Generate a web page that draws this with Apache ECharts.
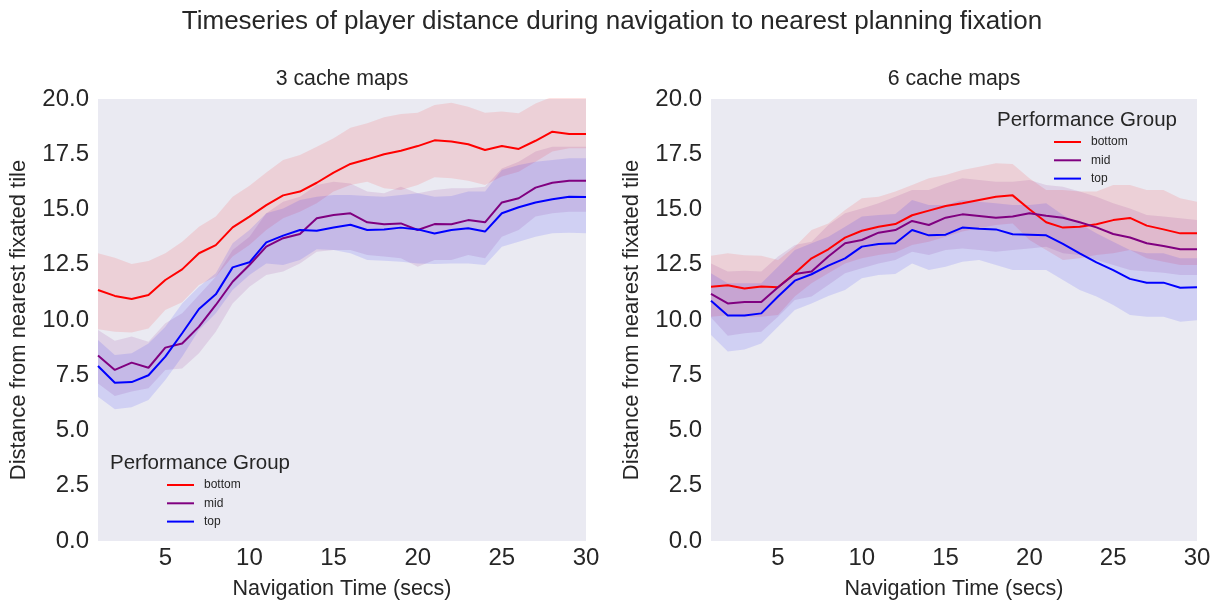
<!DOCTYPE html>
<html>
<head>
<meta charset="utf-8">
<script src="https://cdn.jsdelivr.net/npm/echarts@6/dist/echarts.min.js"></script>
<style>
  html, body { margin: 0; padding: 0; background: #ffffff; }
  #chart { width: 1212px; height: 600px; }
</style>
</head>
<body>
<div id="chart"></div>
<script>
// Navigation time (seconds)
const times = [1, 2, 3, 4, 5, 6, 7, 8, 9, 10, 11, 12, 13, 14, 15, 16, 17, 18, 19, 20, 21, 22, 23, 24, 25, 26, 27, 28, 29, 30];
const xTicks = [5, 10, 15, 20, 25, 30];
const groups = ['bottom', 'mid', 'top'];

// 3 cache maps: mean distance and confidence band per performance group
const c3BottomMean = [11.36, 11.09, 10.95, 11.13, 11.81, 12.29, 13.02, 13.39, 14.19, 14.68, 15.20, 15.64, 15.81, 16.21, 16.67, 17.06, 17.27, 17.50, 17.66, 17.87, 18.13, 18.08, 17.95, 17.69, 17.87, 17.74, 18.11, 18.52, 18.42, 18.42];
const c3BottomLow  = [9.58, 9.47, 9.44, 9.61, 10.45, 10.80, 11.58, 11.96, 12.87, 13.39, 14.07, 14.60, 14.90, 15.28, 15.81, 16.11, 16.26, 15.96, 15.88, 16.11, 16.46, 16.41, 16.30, 16.11, 16.49, 16.71, 17.16, 17.62, 17.77, 17.77];
const c3BottomHigh = [13.02, 12.82, 12.53, 12.67, 13.02, 13.54, 14.22, 14.68, 15.58, 16.08, 16.67, 17.24, 17.47, 17.84, 18.22, 18.70, 18.90, 19.17, 19.32, 19.38, 19.73, 19.83, 19.65, 19.38, 19.43, 19.35, 19.80, 20.10, 20.15, 20.15];
const c3MidMean    = [8.39, 7.74, 8.07, 7.84, 8.75, 8.94, 9.70, 10.68, 11.73, 12.49, 13.32, 13.70, 13.89, 14.60, 14.75, 14.83, 14.42, 14.33, 14.37, 14.07, 14.34, 14.33, 14.52, 14.42, 15.32, 15.51, 15.99, 16.21, 16.30, 16.30];
const c3MidLow     = [7.13, 6.56, 6.76, 6.91, 7.74, 7.81, 8.49, 9.47, 10.75, 11.51, 12.04, 12.19, 12.56, 13.09, 13.17, 13.17, 12.94, 12.87, 12.79, 12.41, 12.71, 12.71, 12.94, 12.79, 13.77, 14.07, 14.68, 14.83, 14.90, 14.90];
const c3MidHigh    = [9.55, 9.06, 9.25, 9.02, 9.85, 10.30, 11.13, 11.96, 13.17, 13.77, 14.83, 15.35, 15.58, 16.11, 16.26, 16.18, 15.81, 15.73, 16.03, 15.73, 15.88, 15.96, 15.96, 16.03, 16.86, 17.16, 17.62, 17.84, 17.84, 17.84];
const c3TopMean    = [7.92, 7.16, 7.19, 7.50, 8.34, 9.40, 10.50, 11.16, 12.38, 12.61, 13.51, 13.82, 14.07, 14.04, 14.19, 14.31, 14.07, 14.09, 14.18, 14.10, 13.91, 14.07, 14.15, 14.00, 14.83, 15.10, 15.32, 15.46, 15.58, 15.57];
const c3TopLow     = [6.53, 5.96, 6.05, 6.38, 7.29, 8.34, 9.55, 10.30, 11.36, 12.04, 12.56, 12.49, 12.71, 13.20, 13.17, 13.02, 12.71, 12.68, 12.64, 12.56, 12.53, 12.56, 12.56, 12.49, 13.32, 13.54, 13.77, 13.92, 13.95, 13.92];
const c3TopHigh    = [9.09, 8.42, 8.49, 8.94, 9.70, 10.75, 11.51, 12.11, 13.47, 14.07, 14.83, 15.05, 15.43, 15.58, 15.66, 15.66, 15.61, 15.58, 15.66, 15.73, 15.58, 15.61, 15.81, 15.81, 16.79, 17.01, 17.16, 17.24, 17.32, 17.32];

// 6 cache maps: mean distance and confidence band per performance group
const c6BottomMean = [11.51, 11.57, 11.43, 11.52, 11.48, 12.11, 12.79, 13.20, 13.73, 14.04, 14.22, 14.34, 14.74, 14.95, 15.16, 15.28, 15.43, 15.58, 15.64, 15.01, 14.42, 14.18, 14.22, 14.33, 14.52, 14.62, 14.27, 14.10, 13.92, 13.92];
const c6BottomLow  = [10.15, 10.21, 10.15, 10.15, 10.23, 11.06, 11.66, 12.11, 12.56, 12.79, 12.94, 13.05, 13.39, 13.54, 13.77, 14.00, 14.15, 14.30, 14.37, 13.62, 13.17, 12.71, 12.79, 12.94, 13.02, 13.17, 12.79, 12.64, 12.49, 12.49];
const c6BottomHigh = [12.91, 13.02, 12.93, 12.91, 12.71, 13.32, 14.07, 14.37, 14.98, 15.51, 15.58, 15.81, 16.11, 16.41, 16.56, 16.79, 16.94, 17.09, 17.06, 16.41, 15.88, 15.88, 15.81, 15.81, 16.11, 16.11, 15.88, 15.88, 15.51, 15.35];
const c6MidMean    = [11.18, 10.75, 10.81, 10.81, 11.48, 12.08, 12.19, 12.87, 13.47, 13.62, 13.95, 14.07, 14.48, 14.30, 14.63, 14.78, 14.71, 14.63, 14.68, 14.83, 14.72, 14.63, 14.42, 14.19, 13.89, 13.73, 13.47, 13.35, 13.20, 13.20];
const c6MidLow     = [10.11, 9.29, 9.40, 9.47, 10.15, 10.90, 11.06, 11.58, 12.11, 12.34, 12.56, 12.71, 13.09, 12.94, 13.17, 13.24, 13.17, 13.09, 13.17, 13.24, 13.32, 13.02, 12.94, 12.71, 12.49, 12.26, 12.19, 12.14, 12.04, 12.04];
const c6MidHigh    = [12.56, 12.19, 12.23, 12.19, 12.87, 13.39, 13.54, 14.30, 14.83, 15.05, 15.28, 15.58, 15.88, 15.88, 16.18, 16.41, 16.33, 16.26, 16.26, 16.33, 16.11, 16.03, 15.81, 15.58, 15.28, 15.05, 14.75, 14.68, 14.60, 14.52];
const c6TopMean    = [10.87, 10.20, 10.20, 10.30, 11.06, 11.78, 12.07, 12.46, 12.79, 13.32, 13.44, 13.47, 14.07, 13.83, 13.86, 14.18, 14.13, 14.10, 13.88, 13.86, 13.83, 13.44, 13.02, 12.61, 12.26, 11.86, 11.69, 11.69, 11.46, 11.48];
const c6TopLow     = [9.32, 8.57, 8.67, 8.94, 9.70, 10.45, 10.75, 11.09, 11.36, 11.89, 12.04, 12.08, 12.56, 12.26, 12.41, 12.64, 12.71, 12.49, 12.26, 12.26, 12.26, 11.81, 11.36, 11.06, 10.68, 10.23, 10.15, 10.15, 9.92, 9.99];
const c6TopHigh    = [12.11, 11.66, 11.66, 11.66, 12.41, 13.17, 13.47, 13.77, 14.22, 14.68, 14.75, 14.80, 15.43, 15.20, 15.20, 15.43, 15.35, 15.28, 15.20, 15.20, 15.28, 14.75, 14.37, 13.92, 13.54, 13.17, 13.02, 13.02, 12.79, 12.79];

const FONT = 'Liberation Sans, Arial, sans-serif';
const TEXT = '#262626';
const colors = { bottom: '#ff0000', mid: '#800080', top: '#0000ff' };
const bandColors = { bottom: 'rgba(255,0,0,0.11)', mid: 'rgba(128,0,128,0.11)', top: 'rgba(0,0,255,0.11)' };

const panels = [
  { mean: [c3BottomMean, c3MidMean, c3TopMean], low: [c3BottomLow, c3MidLow, c3TopLow], high: [c3BottomHigh, c3MidHigh, c3TopHigh] },
  { mean: [c6BottomMean, c6MidMean, c6TopMean], low: [c6BottomLow, c6MidLow, c6TopLow], high: [c6BottomHigh, c6MidHigh, c6TopHigh] }
];

const series = [];
panels.forEach((p, gi) => {
  // confidence bands: invisible lower edge with the band thickness stacked on top
  groups.forEach((g, k) => {
    const stackId = 'band-' + gi + '-' + g;
    series.push({
      name: g + ' low', type: 'line', xAxisIndex: gi, yAxisIndex: gi,
      stack: stackId, symbol: 'none', silent: true,
      lineStyle: { opacity: 0 },
      data: p.low[k]
    });
    series.push({
      name: g + ' band', type: 'line', xAxisIndex: gi, yAxisIndex: gi,
      stack: stackId, symbol: 'none', silent: true,
      lineStyle: { opacity: 0 },
      areaStyle: { color: bandColors[g], opacity: 1 },
      data: p.high[k].map((v, i) => v - p.low[k][i])
    });
  });
  // mean lines
  groups.forEach((g, k) => {
    series.push({
      name: g, type: 'line', xAxisIndex: gi, yAxisIndex: gi,
      symbol: 'none', z: 5,
      color: colors[g],
      lineStyle: { width: 2, color: colors[g] },
      data: p.mean[k]
    });
  });
});

const grids = [
  { left: 98, top: 99, width: 488, height: 442 },
  { left: 711, top: 99, width: 486, height: 442 }
];

function xAxis(gi) {
  return {
    type: 'category', gridIndex: gi, data: times, boundaryGap: false,
    name: 'Navigation Time (secs)', nameLocation: 'middle', nameGap: 37,
    nameTextStyle: { fontFamily: FONT, fontSize: 21.5, color: TEXT },
    axisLine: { show: false }, axisTick: { show: false }, splitLine: { show: false },
    axisLabel: { interval: (idx, val) => xTicks.includes(Number(val)),
      fontFamily: FONT, fontSize: 24, color: TEXT, margin: 5 }
  };
}
function yAxis(gi) {
  return {
    type: 'value', gridIndex: gi, min: 0, max: 20, interval: 2.5,
    name: 'Distance from nearest fixated tile', nameLocation: 'middle', nameGap: 68,
    nameTextStyle: { fontFamily: FONT, fontSize: 22, color: TEXT },
    axisLine: { show: false }, axisTick: { show: false }, splitLine: { show: false },
    axisLabel: { fontFamily: FONT, fontSize: 24, color: TEXT, margin: 9,
      formatter: v => v.toFixed(1) }
  };
}

function legend(left, top) {
  return {
    data: groups, orient: 'vertical', left: left, top: top, padding: 0,
    icon: 'rect', itemWidth: 27, itemHeight: 2, itemGap: 4.3,
    selectedMode: false,
    textStyle: { fontFamily: FONT, fontSize: 12, color: TEXT, lineHeight: 14, padding: [0, 0, 0, 5] }
  };
}

const chart = echarts.init(document.getElementById('chart'), null, { renderer: 'canvas' });
chart.setOption({
  backgroundColor: '#ffffff',
  animation: false,
  title: [
    { text: 'Timeseries of player distance during navigation to nearest planning fixation',
      left: 612, textAlign: 'center', top: 9, padding: 0,
      textStyle: { fontFamily: FONT, fontSize: 26, fontWeight: 'normal', color: TEXT } },
    { text: '3 cache maps', left: 342, textAlign: 'center', top: 69, padding: 0,
      textStyle: { fontFamily: FONT, fontSize: 21.3, fontWeight: 'normal', color: TEXT } },
    { text: '6 cache maps', left: 954, textAlign: 'center', top: 69, padding: 0,
      textStyle: { fontFamily: FONT, fontSize: 21.3, fontWeight: 'normal', color: TEXT } },
    { text: 'Performance Group', left: 110, top: 453, padding: 0,
      textStyle: { fontFamily: FONT, fontSize: 20.5, fontWeight: 'normal', color: TEXT } },
    { text: 'Performance Group', left: 997, top: 110, padding: 0,
      textStyle: { fontFamily: FONT, fontSize: 20.5, fontWeight: 'normal', color: TEXT } }
  ],
  legend: [legend(167, 478), legend(1054, 135)],
  grid: grids.map(g => Object.assign({ show: true, backgroundColor: '#eaeaf2', borderWidth: 0, outerBoundsMode: 'none' }, g)),
  xAxis: [xAxis(0), xAxis(1)],
  yAxis: [yAxis(0), yAxis(1)],
  series: series
});
</script>
</body>
</html>
